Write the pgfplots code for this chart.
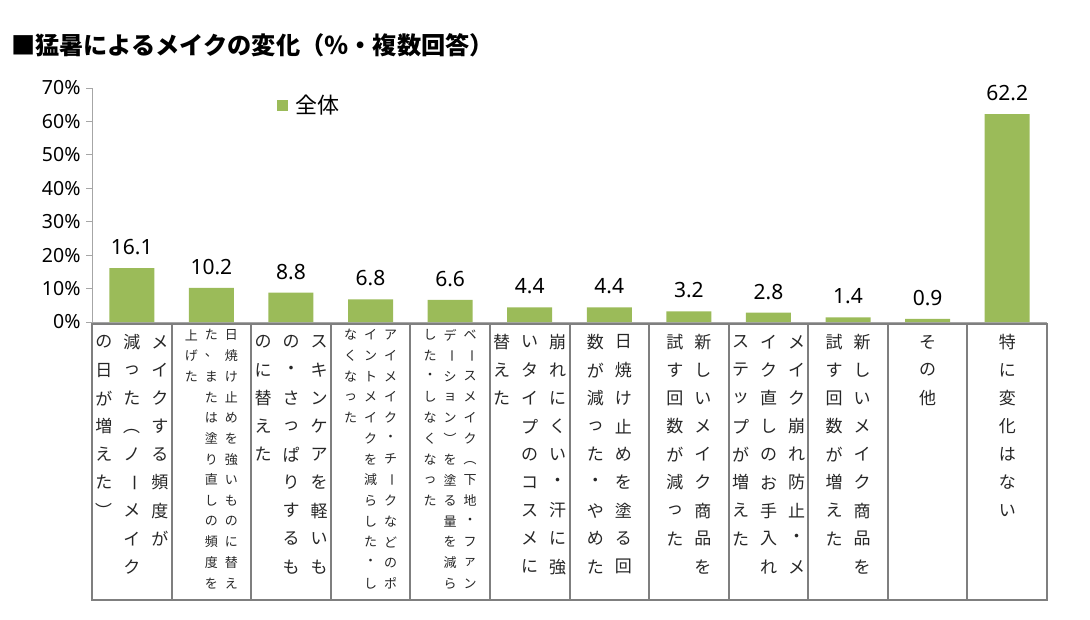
\documentclass[border=0pt]{standalone}
\usepackage{fontspec}
\setmainfont{Noto Sans CJK JP}
\newfontfamily\numfont{Noto Sans}
\usepackage{graphicx}
\usepackage{pgfplots}
\pgfplotsset{compat=1.18}
\definecolor{barg}{HTML}{9BBB59}
\definecolor{axg}{HTML}{A6A6A6}
\definecolor{tabg}{HTML}{7F7F7F}

% vertical forms
\newcommand\VB{\rotatebox[origin=c]{-90}{ー}}
\newcommand\VL{\rotatebox[origin=c]{-90}{（}}
\newcommand\VR{\rotatebox[origin=c]{-90}{）}}

\makeatletter
\newcount\vc@n
% #1 x of column, #2 y of first char, #3 pitch, #4 chars
\newcommand\vcol[4]{\global\vc@n=0
  \@tfor\@c:=#4\do{\node[inner sep=0pt] at (#1pt,{-#2pt-\the\vc@n*#3pt}) {\@c};\global\advance\vc@n by 1 }}
\makeatother

\begin{document}
\begin{tikzpicture}
\useasboundingbox (0pt,0pt) rectangle (1090pt,-619pt);

\node[anchor=west, inner sep=0pt] at (11pt,-45pt) {\fontsize{24.2}{28}\selectfont\bfseries ■猛暑によるメイクの変化（％・複数回答）};

\begin{axis}[
  at={(92pt,-322pt)}, anchor=south west,
  scale only axis, width=955pt, height=234pt,
  xmin=-0.5, xmax=11.5, ymin=0, ymax=70,
  axis x line=bottom, axis y line=left,
  axis line style={draw=axg, line width=1pt, -},
  xtick=\empty,
  ytick={0,10,...,70},
  yticklabels={0\%,10\%,20\%,30\%,40\%,50\%,60\%,70\%},
  yticklabel style={font=\numfont\fontsize{19.5}{22}\selectfont, xshift=-2pt},
  tick align=outside, major tick length=6pt,
  y tick style={draw=axg, line width=1pt},
  ybar, bar width=45pt, clip=false,
  nodes near coords,
  /pgf/number format/.cd, fixed, fixed zerofill, precision=1, assume math mode=true,
  /pgfplots/.cd,
  nodes near coords style={font=\numfont\fontsize{21}{24}\selectfont, inner sep=0pt, yshift=13pt},
  legend style={at={(0.1937,0.927)}, anchor=west, draw=none, fill=none,
    font=\fontsize{22}{24}\selectfont, inner sep=0pt,
    /tikz/every odd column/.append style={column sep=5pt}},
  legend image code/.code={\fill[barg] (0pt,-5.5pt) rectangle (11pt,5.5pt);},
]
\addplot[fill=barg, draw=none] coordinates {
  (0,16.1) (1,10.2) (2,8.8) (3,6.8) (4,6.6) (5,4.4)
  (6,4.4) (7,3.2) (8,2.8) (9,1.4) (10,0.9) (11,62.2)};
\legend{全体}
\end{axis}

% category table
\draw[tabg, line width=2pt] (92pt,-324pt) rectangle (1047pt,-600pt);
\foreach \i in {1,...,11}
  \draw[tabg, line width=2pt] ({(92+79.583*\i)*1pt},-324pt) -- ({(92+79.583*\i)*1pt},-600pt);

\begin{scope}[font=\fontsize{17}{20}\selectfont, text=black!85]
\vcol{159.8}{342}{28.1}{メイクする頻度が}
\vcol{131.8}{342}{28.1}{減った\VL ノ\VB メイク}
\vcol{103.8}{342}{28.1}{の日が増えた\VR}
\vcol{319}{342}{28.1}{スキンケアを軽いも}
\vcol{291}{342}{28.1}{の・さっぱりするも}
\vcol{263}{342}{28.1}{のに替えた}
\vcol{557.7}{342}{28.1}{崩れにくい・汗に強}
\vcol{529.7}{342}{28.1}{いタイプのコスメに}
\vcol{501.7}{342}{28.1}{替えた}
\vcol{623.3}{342}{28.1}{日焼け止めを塗る回}
\vcol{595.3}{342}{28.1}{数が減った・やめた}
\vcol{702.9}{342}{28.1}{新しいメイク商品を}
\vcol{674.9}{342}{28.1}{試す回数が減った}
\vcol{796.5}{342}{28.1}{メイク崩れ防止・メ}
\vcol{768.5}{342}{28.1}{イク直しのお手入れ}
\vcol{740.5}{342}{28.1}{ステップが増えた}
\vcol{862.1}{342}{28.1}{新しいメイク商品を}
\vcol{834.1}{342}{28.1}{試す回数が増えた}
\vcol{927.7}{342}{28.1}{その他}
\vcol{1007.3}{342}{28.1}{特に変化はない}
\end{scope}

\begin{scope}[font=\fontsize{13}{15}\selectfont, text=black!85]
\vcol{231.4}{335}{20.7}{日焼け止めを強いものに替え}
\vcol{211.4}{335}{20.7}{た、または塗り直しの頻度を}
\vcol{191.4}{335}{20.7}{上げた}
\vcol{390.5}{335}{20.7}{アイメイク・チ\VB クなどのポ}
\vcol{370.5}{335}{20.7}{イントメイクを減らした・し}
\vcol{350.5}{335}{20.7}{なくなった}
\vcol{470.1}{335}{20.7}{ベ\VB スメイク\VL 下地・ファン}
\vcol{450.1}{335}{20.7}{デ\VB ション\VR を塗る量を減ら}
\vcol{430.1}{335}{20.7}{した・しなくなった}
\end{scope}
\end{tikzpicture}
\end{document}
